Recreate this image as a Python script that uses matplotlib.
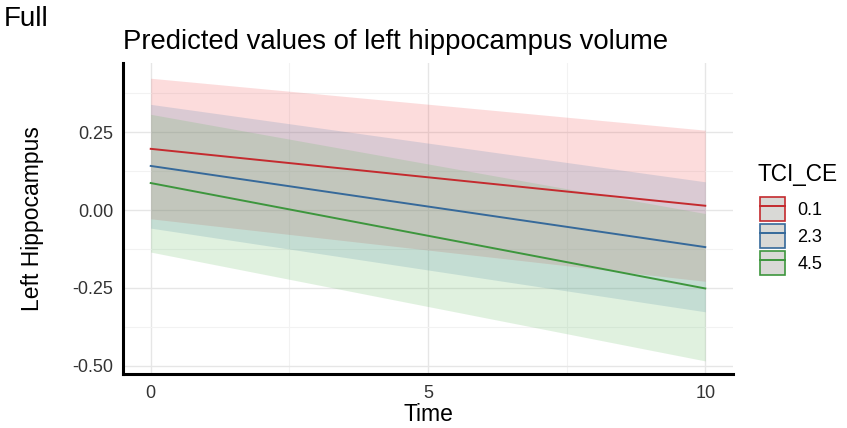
import matplotlib.pyplot as plt
from matplotlib.patches import Patch
from matplotlib.lines import Line2D

plt.rcParams['font.family'] = ['Liberation Sans', 'DejaVu Sans']

# predicted values at Time = 0 and Time = 10
time = [0, 10]
groups = ["0.1", "2.3", "4.5"]
pred = {
    "0.1": [0.197, 0.014],
    "2.3": [0.142, -0.119],
    "4.5": [0.087, -0.252],
}
lower = {
    "0.1": [-0.028, -0.229],
    "2.3": [-0.058, -0.327],
    "4.5": [-0.135, -0.485],
}
upper = {
    "0.1": [0.424, 0.257],
    "2.3": [0.340, 0.091],
    "4.5": [0.308, -0.011],
}
colors = {"0.1": "#C42A2E", "2.3": "#36699A", "4.5": "#3D963D"}
fills = {"0.1": "#F0484A", "2.3": "#4A7FB0", "4.5": "#5DB85A"}

fig = plt.figure(figsize=(8.47, 4.28), dpi=100)
ax = fig.add_axes([0.1452, 0.1262, 0.7202, 0.7266])

for g in groups:
    ax.fill_between(time, lower[g], upper[g], color=fills[g], alpha=0.19, linewidth=0)
for g in groups:
    ax.plot(time, pred[g], color=colors[g], linewidth=1.4)

ax.set_xlim(-0.5, 10.5)
ax.set_ylim(-0.527, 0.473)
ax.set_xticks([0, 5, 10])
ax.set_yticks([-0.5, -0.25, 0, 0.25])
ax.set_yticklabels(["-0.50", "-0.25", "0.00", "0.25"])
ax.set_xticks([2.5, 7.5], minor=True)
ax.set_yticks([-0.375, -0.125, 0.125, 0.375], minor=True)
ax.grid(True, which='major', color='#E6E6E6', linewidth=1.0)
ax.grid(True, which='minor', color='#F2F2F2', linewidth=0.8)
ax.set_axisbelow(True)
ax.tick_params(which='both', length=0, labelsize=13, labelcolor='#333333')
ax.tick_params(axis='x', pad=8)
ax.tick_params(axis='y', pad=7)
for s in ['top', 'right']:
    ax.spines[s].set_visible(False)
for s in ['left', 'bottom']:
    ax.spines[s].set_linewidth(2.2)
    ax.spines[s].set_color('black')

ax.set_xlabel("Time", fontsize=16.5, labelpad=0.5)
ax.set_ylabel("Left Hippocampus", fontsize=16.5, labelpad=20)
ax.set_title("Predicted values of left hippocampus volume", fontsize=19.8, loc='left', pad=10)
fig.text(0.004, 0.985, "Full", fontsize=20, va='top', ha='left')

fig.text(757 / 847, 1 - 175 / 428, "TCI_CE", fontsize=16.3, va='center', ha='left')
handles = [(Patch(facecolor='#D9D9D6', edgecolor=colors[g], linewidth=1.2),
            Line2D([], [], color=colors[g], linewidth=1.4)) for g in groups]
leg = fig.legend(handles, groups, loc='upper left',
                 bbox_to_anchor=(760 / 847, 1 - 197 / 428), frameon=False, fontsize=13,
                 handlelength=1.38, handleheight=1.65, borderpad=0,
                 labelspacing=0.18, handletextpad=0.7, borderaxespad=0)

fig.savefig("out.png", dpi=100)
